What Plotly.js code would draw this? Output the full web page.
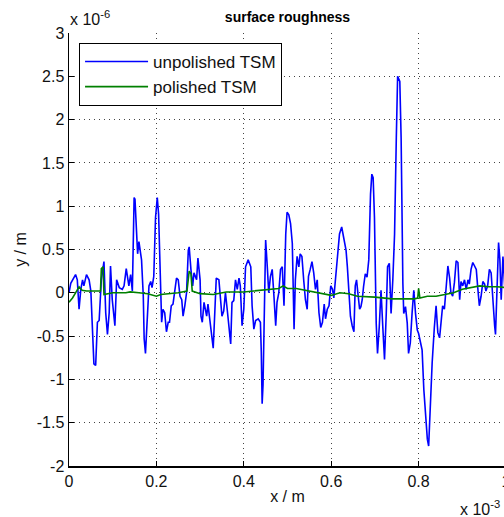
<!DOCTYPE html>
<html>
<head>
<meta charset="utf-8">
<script src="https://cdn.plot.ly/plotly-3.0.1.min.js"></script>
<style>
html, body { margin: 0; padding: 0; overflow: hidden; background: #fff; }
#chart { width: 512px; height: 517px; }
</style>
</head>
<body>
<div id="chart"></div>
<script>
// x in units of 1e-3 m, y in units of 1e-6 m (as displayed with the axis multipliers)
var unpolishedX = [0,0.004,0.015,0.019,0.023,0.027,0.031,0.034,0.040,0.046,0.050,0.053,0.057,0.061,0.065,0.069,0.074,0.080,0.084,0.088,0.092,0.095,0.099,0.105,0.109,0.115,0.122,0.126,0.131,0.137,0.141,0.145,0.149,0.151,0.154,0.157,0.160,0.166,0.170,0.172,0.175,0.179,0.183,0.187,0.190,0.194,0.198,0.202,0.205,0.209,0.212,0.215,0.219,0.223,0.227,0.230,0.234,0.238,0.242,0.246,0.250,0.254,0.258,0.261,0.265,0.269,0.273,0.275,0.279,0.283,0.286,0.292,0.295,0.300,0.302,0.305,0.309,0.315,0.318,0.322,0.326,0.330,0.333,0.337,0.343,0.347,0.350,0.354,0.358,0.362,0.366,0.370,0.373,0.377,0.381,0.385,0.389,0.392,0.396,0.400,0.404,0.410,0.416,0.419,0.423,0.427,0.433,0.438,0.440,0.442,0.444,0.446,0.450,0.454,0.457,0.461,0.465,0.469,0.473,0.476,0.480,0.484,0.488,0.492,0.496,0.499,0.503,0.507,0.511,0.515,0.518,0.522,0.526,0.529,0.533,0.537,0.541,0.545,0.548,0.552,0.556,0.560,0.564,0.568,0.572,0.576,0.580,0.584,0.587,0.591,0.595,0.599,0.603,0.606,0.610,0.615,0.619,0.624,0.629,0.634,0.637,0.640,0.644,0.648,0.652,0.655,0.658,0.661,0.665,0.668,0.671,0.674,0.678,0.682,0.686,0.690,0.693,0.696,0.699,0.703,0.706,0.710,0.714,0.718,0.722,0.726,0.729,0.733,0.737,0.741,0.745,0.749,0.752,0.757,0.760,0.764,0.766,0.770,0.774,0.777,0.781,0.785,0.789,0.793,0.797,0.800,0.804,0.808,0.812,0.816,0.820,0.823,0.827,0.831,0.836,0.840,0.844,0.848,0.852,0.855,0.859,0.863,0.867,0.871,0.874,0.878,0.882,0.886,0.890,0.894,0.897,0.901,0.905,0.909,0.913,0.916,0.920,0.924,0.928,0.932,0.935,0.939,0.943,0.947,0.951,0.954,0.958,0.962,0.966,0.970,0.974,0.976,0.980,0.983,0.986,0.989,0.993,0.997,1.000];
var unpolishedY = [0.0,0.11,0.21,0.15,-0.19,0.04,0.15,0.08,0.21,0.15,0.02,-0.30,-0.82,-0.84,-0.34,-0.32,0.15,0.36,-0.23,-0.48,-0.23,0.31,-0.08,-0.38,0.15,0.06,0.04,0.08,0.28,0.08,0.21,0.02,1.10,1.08,0.76,0.45,0.59,0.38,-0.04,-0.53,-0.70,-0.30,0.08,0.13,0.06,0.19,0.87,1.10,0.91,0.19,-0.34,-0.19,-0.23,-0.45,-0.34,-0.34,-0.15,-0.13,0.0,0.17,0.15,-0.04,-0.08,-0.27,-0.15,0.0,0.49,0.53,0.27,0.08,0.23,0.15,0.40,0.15,-0.27,-0.34,-0.11,-0.27,-0.13,-0.30,-0.45,-0.64,-0.30,0.17,0.15,-0.11,-0.27,-0.21,0.0,-0.19,-0.42,-0.59,-0.11,-0.09,0.15,0.04,0.17,0.08,-0.38,-0.19,0.30,0.38,0.30,-0.15,-0.42,-0.32,-0.30,-0.34,-0.68,-1.28,-1.06,-0.38,0.61,0.28,0.0,0.19,0.27,-0.04,-0.38,-0.11,0.0,0.27,0.30,-0.15,0.68,0.93,0.90,0.80,0.57,-0.42,0.15,0.42,0.30,0.45,0.42,0.15,-0.08,-0.19,0.19,0.27,0.36,0.23,0.04,0.15,-0.23,-0.40,-0.34,-0.13,-0.30,-0.19,-0.15,0.08,0.04,-0.06,0.15,0.42,0.68,0.76,0.61,0.49,0.30,0.0,-0.27,-0.38,-0.45,0.08,0.15,0.0,-0.19,-0.16,-0.08,0.07,0.22,0.18,0.38,1.14,1.37,1.33,0.87,-0.35,-0.70,-0.39,0.03,-0.39,-0.77,-0.24,0.30,0.34,-0.24,0.15,0.68,1.79,2.50,2.44,1.79,0.11,-0.24,-0.16,-0.35,-0.70,-0.58,-0.24,0.03,-0.24,-0.43,-0.47,-0.58,-0.66,-1.12,-1.46,-1.69,-1.77,-1.23,-0.81,-0.40,-0.15,-0.46,-0.52,-0.31,-0.15,-0.19,0.08,0.31,0.17,0.0,-0.04,0.12,0.37,0.35,-0.08,0.13,0.08,0.15,0.04,0.15,0.10,0.27,0.35,0.31,0.27,0.08,-0.15,-0.04,0.13,0.10,0.02,0.08,0.27,0.23,-0.15,-0.38,-0.48,0.08,0.58,0.38,-0.08,0.42,0.08,0.05];

var polishedX = [0,0.008,0.015,0.023,0.030,0.040,0.055,0.072,0.074,0.078,0.080,0.100,0.130,0.140,0.160,0.180,0.200,0.210,0.250,0.270,0.275,0.279,0.282,0.300,0.330,0.360,0.400,0.450,0.480,0.490,0.500,0.520,0.550,0.580,0.600,0.620,0.640,0.660,0.700,0.740,0.770,0.790,0.798,0.800,0.803,0.820,0.840,0.860,0.880,0.900,0.920,0.940,0.960,0.980,1.000];
var polishedY = [-0.11,-0.06,0.0,0.07,0.03,0.02,0.02,0.02,0.28,0.30,-0.02,0.0,0.0,0.01,0.0,-0.01,-0.04,-0.02,0.0,0.02,0.25,0.22,0.02,-0.01,-0.02,0.01,0.01,0.04,0.05,0.08,0.05,0.05,0.02,-0.01,-0.03,0.0,-0.01,-0.04,-0.05,-0.07,-0.07,-0.07,-0.06,0.05,-0.06,-0.04,-0.04,-0.02,0.0,0.04,0.06,0.08,0.07,0.07,0.06];

var xTickVals = [0, 0.2, 0.4, 0.6, 0.8, 1];
var xTickText = ['0', '0.2', '0.4', '0.6', '0.8', '1'];
var yTickVals = [-2, -1.5, -1, -0.5, 0, 0.5, 1, 1.5, 2, 2.5, 3];
var yTickText = ['-2', '-1.5', '-1', '-0.5', '0', '0.5', '1', '1.5', '2', '2.5', '3'];

var traces = [
  { x: unpolishedX, y: unpolishedY, type: 'scatter', mode: 'lines', name: 'unpolished TSM',
    line: { color: '#0000FF', width: 1.6 } },
  { x: polishedX, y: polishedY, type: 'scatter', mode: 'lines', name: 'polished TSM',
    line: { color: '#008000', width: 1.6 } }
];

var axisCommon = {
  ticks: 'inside', ticklen: 5, tickcolor: '#000', tickwidth: 1,
  showline: true, linecolor: '#000', linewidth: 1.5, mirror: false,
  showgrid: true, gridcolor: '#444', gridwidth: 1, griddash: '1px,4px',
  zeroline: false, automargin: false,
  tickfont: { size: 16, color: '#111' }
};

var layout = {
  width: 512, height: 517,
  margin: { l: 69, r: 6, t: 33, b: 51 },
  paper_bgcolor: '#fff', plot_bgcolor: '#fff',
  font: { family: 'Liberation Sans, Arial, sans-serif', size: 16, color: '#111' },
  title: { text: '<b>surface roughness</b>', font: { size: 14, color: '#000' },
           x: 0.5, xref: 'paper', xanchor: 'center', y: 1 - 17 / 517, yref: 'container', yanchor: 'middle' },
  xaxis: Object.assign({}, axisCommon, {
    range: [0, 1], tickmode: 'array', tickvals: xTickVals, ticktext: xTickText,
    title: { text: 'x / m', standoff: 2, font: { size: 16 } }
  }),
  yaxis: Object.assign({}, axisCommon, {
    range: [-2, 3], tickmode: 'array', tickvals: yTickVals, ticktext: yTickText,
    title: { text: 'y / m', standoff: 6, font: { size: 16 } }
  }),
  showlegend: true,
  legend: { x: 0.023, y: 0.977, xanchor: 'left', yanchor: 'top',
            bgcolor: '#fff', bordercolor: '#000', borderwidth: 1,
            font: { size: 17, color: '#111' }, itemwidth: 63, tracegroupgap: 0 },
  annotations: [
    { text: 'x 10<sup>-6</sup>', xref: 'paper', yref: 'paper', x: -0.002, y: 1.035,
      xanchor: 'left', yanchor: 'middle', showarrow: false, font: { size: 16, color: '#111' } },
    { text: 'x 10<sup>-3</sup>', xref: 'paper', yref: 'paper', x: 0.89, y: -0.097,
      xanchor: 'left', yanchor: 'middle', showarrow: false, font: { size: 16, color: '#111' } }
  ]
};

Plotly.newPlot('chart', traces, layout, { displayModeBar: false, staticPlot: true });
</script>
</body>
</html>
